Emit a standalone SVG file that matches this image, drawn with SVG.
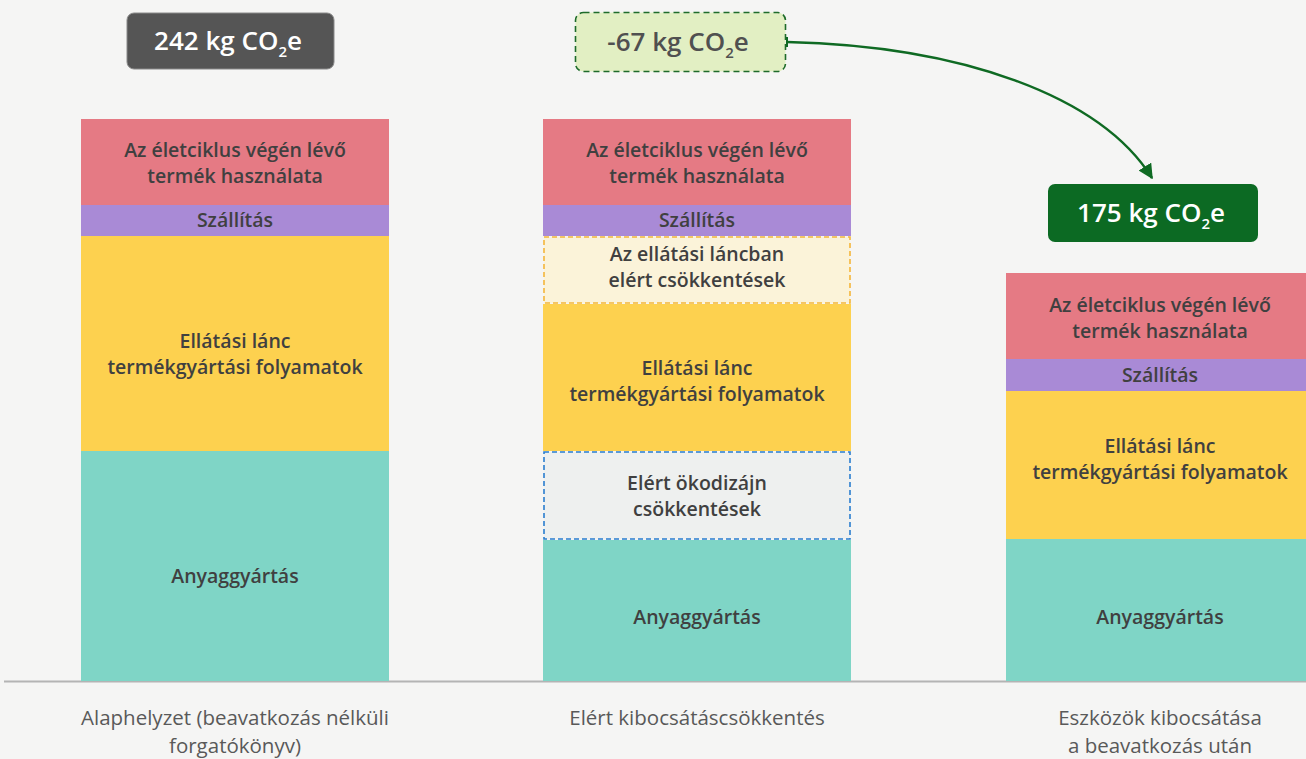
<svg xmlns="http://www.w3.org/2000/svg" width="1306" height="759" viewBox="0 0 1306 759">
<defs>
<style>
.bt{font-family:"Open Sans","Noto Sans",sans-serif;font-weight:600;font-size:19.5px;fill:#404040;text-anchor:middle}
.lab{font-family:"Open Sans","Noto Sans",sans-serif;font-size:20.5px;fill:#595959;text-anchor:middle}
.tot{font-family:"Open Sans","Noto Sans",sans-serif;font-weight:600;font-size:26px;text-anchor:middle}
.red{fill:#e57a84}.pur{fill:#a98ad6}.yel{fill:#fdd14f}.tea{fill:#7fd5c6}
</style>
<marker id="ah" viewBox="0 0 10 10" refX="9" refY="5" markerWidth="6" markerHeight="6" orient="auto" markerUnits="strokeWidth">
<path d="M0,0 L10,5 L0,10 z" fill="#0f6a23"/>
</marker>
</defs>
<rect width="1306" height="759" fill="#f5f5f4"/>
<line x1="4" y1="681.5" x2="1306" y2="681.5" stroke="#b4b4b4" stroke-width="2"/>

<g id="bar1">
<rect class="red" x="81" y="119" width="308" height="86"/>
<rect class="pur" x="81" y="205" width="308" height="31"/>
<rect class="yel" x="81" y="236" width="308" height="215"/>
<rect class="tea" x="81" y="451" width="308" height="230"/>
<text class="bt" x="235" y="157">Az életciklus végén lévő</text>
<text class="bt" x="235" y="183">termék használata</text>
<text class="bt" x="235" y="227">Szállítás</text>
<text class="bt" x="235" y="348">Ellátási lánc</text>
<text class="bt" x="235" y="374">termékgyártási folyamatok</text>
<text class="bt" x="235" y="583">Anyaggyártás</text>
</g>

<g id="bar2">
<rect class="red" x="543" y="119" width="308" height="86"/>
<rect class="pur" x="543" y="205" width="308" height="31"/>
<rect x="544" y="237" width="306" height="66" fill="#fbf3d9" stroke="#f4b63a" stroke-width="1.6" stroke-dasharray="5,3"/>
<rect class="yel" x="543" y="304" width="308" height="147"/>
<rect x="544" y="452" width="306" height="87" fill="#eef0ef" stroke="#2a7ecf" stroke-width="1.6" stroke-dasharray="5,3"/>
<rect class="tea" x="543" y="540" width="308" height="141"/>
<text class="bt" x="697" y="157">Az életciklus végén lévő</text>
<text class="bt" x="697" y="183">termék használata</text>
<text class="bt" x="697" y="227">Szállítás</text>
<text class="bt" x="697" y="261">Az ellátási láncban</text>
<text class="bt" x="697" y="287">elért csökkentések</text>
<text class="bt" x="697" y="375">Ellátási lánc</text>
<text class="bt" x="697" y="401">termékgyártási folyamatok</text>
<text class="bt" x="697" y="490">Elért ökodizájn</text>
<text class="bt" x="697" y="516">csökkentések</text>
<text class="bt" x="697" y="624">Anyaggyártás</text>
</g>

<g id="bar3">
<rect class="red" x="1006" y="273" width="308" height="86"/>
<rect class="pur" x="1006" y="359" width="308" height="32"/>
<rect class="yel" x="1006" y="391" width="308" height="148"/>
<rect class="tea" x="1006" y="539" width="308" height="142"/>
<text class="bt" x="1160" y="312">Az életciklus végén lévő</text>
<text class="bt" x="1160" y="338">termék használata</text>
<text class="bt" x="1160" y="382">Szállítás</text>
<text class="bt" x="1160" y="453">Ellátási lánc</text>
<text class="bt" x="1160" y="479">termékgyártási folyamatok</text>
<text class="bt" x="1160" y="624">Anyaggyártás</text>
</g>

<g id="total1">
<rect x="127" y="13" width="207" height="56" rx="7" fill="#555555" stroke="#8a8a8a" stroke-width="1"/>
<text class="tot" x="228" y="50" fill="#ffffff">242 kg CO<tspan font-size="15" dy="7">2</tspan><tspan dy="-7">e</tspan></text>
</g>
<g id="reduction">
<rect x="575.5" y="12.5" width="210" height="59" rx="8" fill="#e2efc3" stroke="#1e6b2a" stroke-width="1.6" stroke-dasharray="6,4"/>
<text class="tot" x="678" y="51" fill="#505050">-67 kg CO<tspan font-size="15" dy="7">2</tspan><tspan dy="-7">e</tspan></text>
</g>
<g id="total3">
<rect x="1048" y="184" width="210" height="58" rx="7" fill="#0c6a23"/>
<text class="tot" x="1151" y="222" fill="#ffffff">175 kg CO<tspan font-size="15" dy="7">2</tspan><tspan dy="-7">e</tspan></text>
</g>

<g id="connectors">
<line x1="787" y1="37" x2="787" y2="47" stroke="#0f6a23" stroke-width="2"/>
<path d="M787,42 C960,46 1100,95 1152,178" fill="none" stroke="#0f6a23" stroke-width="2.5" marker-end="url(#ah)"/>
</g>

<g id="labels">
<text class="lab" x="235" y="725">Alaphelyzet (beavatkozás nélküli</text>
<text class="lab" x="235" y="753">forgatókönyv)</text>
<text class="lab" x="697" y="725">Elért kibocsátáscsökkentés</text>
<text class="lab" x="1160" y="725">Eszközök kibocsátása</text>
<text class="lab" x="1160" y="753">a beavatkozás után</text>
</g>
</svg>
